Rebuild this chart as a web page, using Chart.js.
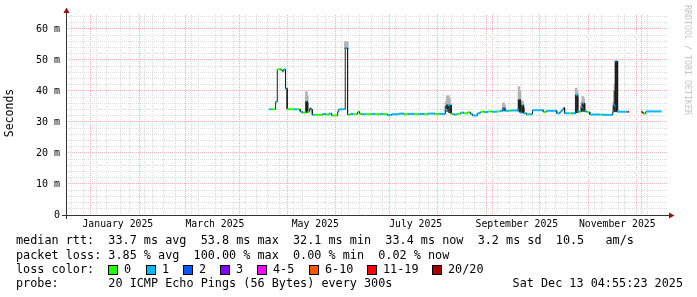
<!DOCTYPE html>
<html lang="en">
<head>
  <meta charset="UTF-8" />
  <title>Smokeping | Last 360 days</title>
  <script src="https://cdn.jsdelivr.net/npm/chart.js"></script>
  <style>
    html, body { margin: 0; padding: 0; background: #fff; }
    canvas { display: block; }
  </style>
</head>
<body>
  <canvas id="smokeChart" width="697" height="297"></canvas>

  <script>
    // x values are days counted from 1 Jan 2025
    const monthStarts = [0, 31, 59, 90, 120, 151, 181, 212, 243, 273, 304, 334];
    const weekStarts = [-9, -2, 5, 12, 19, 26, 33, 40, 47, 54, 61, 68, 75, 82, 89, 96, 103, 110, 117, 124,
      131, 138, 145, 152, 159, 166, 173, 180, 187, 194, 201, 208, 215, 222, 229, 236, 243, 250, 257, 264,
      271, 278, 285, 292, 299, 306, 313, 320, 327, 334, 341];
    const labelDays = [15.5, 74.5, 135.5, 196.5, 258, 319];
    const labelNames = ['January 2025', 'March 2025', 'May 2025', 'July 2025', 'September 2025', 'November 2025'];
    const yTicks = [0, 2, 4, 6, 8, 10, 12, 14, 16, 18, 20, 22, 24, 26, 28, 30, 32, 34, 36, 38, 40,
      42, 44, 46, 48, 50, 52, 54, 56, 58, 60, 62, 64];

    // median rtt (ms), one value per step, step lasts until the next start
    const stepStart = [
      107.2, 108.5, 111.4, 112.4, 114.8, 115.6, 116.4, 117.4, 118.4, 122.6,
      124.4, 126.4, 127.7, 130.1, 130.7, 132.1, 132.9, 133.7, 135.2, 140.0,
      141.8, 143.9, 145.4, 149.1, 149.8, 153.7, 155.1, 156.7, 158.5, 161.2,
      162.4, 163.9, 166.3, 169.9, 171.7, 174.7, 176.5, 179.5, 181.9, 186.7,
      189.1, 191.5, 195.7, 198.1, 201.7, 204.0, 208.2, 210.6, 214.5, 216.0,
      218.1, 219.6, 221.4, 223.8, 225.6, 228.0, 229.8, 231.0, 234.0, 235.8,
      238.2, 240.6, 243.0, 246.0, 247.8, 249.6, 250.8, 253.2, 254.4, 258.6,
      259.3, 260.0, 261.2, 262.0, 263.9, 265.1, 267.5, 274.1, 275.9, 282.2,
      284.3, 285.5, 286.4, 287.0, 289.7, 290.9, 293.9, 294.9, 296.0, 297.2,
      298.1, 299.2, 300.5, 302.3, 308.9, 310.1, 316.3, 317.1, 318.0, 318.9,
      325.2, 326.2, 333.4, 334.3, 334.9, 336.4
    ];
    const lastEnd = 346.0;
    const medianMs = [
      34.1, 34.1, 36.5, 47.0, 46.7, 46.3, 47.0, 40.8, 34.1, 34.1,
      34.1, 33.3, 33.0, 36.6, 33.2, 34.4, 34.0, 32.3, 32.3, 32.6,
      32.4, 32.7, 32.1, 33.4, 34.1, 53.8, 32.3, 32.6, 32.5, 33.3,
      32.6, 32.5, 32.5, 32.6, 32.5, 32.6, 32.5, 32.2, 32.5, 32.7,
      32.5, 32.6, 32.5, 32.6, 32.5, 32.7, 32.6, 32.6, 33.9, 35.5,
      32.6, 32.4, 32.6, 33.0, 32.8, 33.1, 32.6, 32.1, 32.8, 33.3,
      33.2, 33.4, 33.3, 33.4, 33.6, 34.0, 33.6, 33.6, 33.7, 34.0,
      37.2, 33.0, 35.4, 32.8, 32.4, 32.5, 33.8, 33.2, 33.6, 32.8,
      33.4, 34.0, 34.6, 32.8, 32.8, 32.8, 38.7, 33.5, 33.3, 34.8,
      36.0, 33.4, 33.2, 32.4, 32.4, 32.3, 33.4, 35.3, 49.5, 33.3,
      33.3, null, 33.3, 33.0, 32.7, 33.4
    ];
    // index into lossColors
    const lossIdx = [
      1, 0, 1, 0, 0, 0, 1, 1, 0, 1,
      0, 1, 0, 1, 0, 1, 1, 1, 0, 1,
      0, 1, 0, 1, 1, 1, 0, 1, 0, 0,
      0, 1, 0, 1, 0, 1, 0, 1, 1, 1,
      0, 1, 0, 1, 0, 1, 0, 1, 1, 1,
      0, 1, 0, 1, 0, 0, 1, 1, 1, 0,
      1, 0, 1, 0, 1, 1, 1, 0, 1, 1,
      1, 1, 1, 1, 0, 1, 1, 0, 1, 1,
      1, 1, 1, 1, 0, 1, 1, 1, 0, 1,
      1, 1, 0, 1, 0, 1, 1, 1, 1, 1,
      6, 0, 5, 6, 0, 1
    ];

    // smoke (ping spread) around the spikes
    const smokeDay = [130.1, 130.6, 153.8, 154.4, 154.9, 215.0, 215.7, 216.4, 217.1, 249.9, 250.5, 259.3,
      259.9, 261.4, 262.0, 294.1, 294.7, 297.5, 298.1, 298.7, 317.0, 317.6, 318.2, 318.8];
    const smokeLo = [33.0, 33.0, 53.8, 53.8, 53.8, 33.5, 33.5, 33.5, 33.0, 33.6, 33.6, 33.5,
      33.5, 33.0, 33.0, 33.0, 33.0, 33.5, 33.5, 33.5, 33.3, 33.3, 33.3, 33.3];
    const smokeMid = [36.6, 36.0, 53.8, 53.8, 53.8, 35.0, 35.5, 35.5, 35.0, 34.5, 34.5, 37.2,
      36.5, 35.4, 34.5, 38.7, 38.0, 35.0, 36.0, 35.5, 35.3, 40.0, 49.5, 49.5];
    const smokeHi = [39.8, 38.5, 55.9, 55.5, 55.9, 36.5, 38.4, 38.5, 37.5, 36.2, 35.5, 41.4,
      40.0, 36.8, 35.5, 40.9, 39.5, 36.5, 38.2, 37.5, 36.5, 42.0, 49.9, 49.7];

    const lossColors = ['#26ff00', '#00b8ff', '#0059ff', '#7e00ff', '#ff00ff', '#ff5500', '#ff0000', '#a00000'];
    const lossLabels = ['0', '1', '2', '3', '4-5', '6-10', '11-19', '20/20'];

    const FONT = '"DejaVu Sans Mono", monospace';
    const GRID_GRAY = '#dcdcdc';
    const GRID_RED = '#f2b0b0';

    // build the stepped median line
    const pts = [];
    stepStart.forEach((x0, i) => {
      const x1 = i + 1 < stepStart.length ? stepStart[i + 1] : lastEnd;
      pts.push({ x: x0, y: medianMs[i], c: lossIdx[i] });
      pts.push({ x: x1, y: medianMs[i], c: lossIdx[i] });
    });

    const isRiser = s => s.p0.parsed.y !== s.p1.parsed.y;

    function xGridColor(c) {
      if (!c.tick) return 'rgba(0,0,0,0)';
      const v = c.tick.value;
      if (labelDays.includes(v)) return 'rgba(0,0,0,0)';
      return monthStarts.includes(v) ? GRID_RED : GRID_GRAY;
    }

    function yGridColor(c) {
      if (!c.tick) return 'rgba(0,0,0,0)';
      return c.tick.value % 10 === 0 ? GRID_RED : GRID_GRAY;
    }

    const decorations = {
      id: 'decorations',
      afterDraw(chart) {
        const ctx = chart.ctx;
        ctx.save();

        // axes with arrows
        ctx.strokeStyle = '#333';
        ctx.lineWidth = 1;
        ctx.beginPath();
        ctx.moveTo(66.5, 219);
        ctx.lineTo(66.5, 12);
        ctx.moveTo(62, 215.5);
        ctx.lineTo(669, 215.5);
        ctx.stroke();
        ctx.fillStyle = '#9a1010';
        ctx.beginPath();
        ctx.moveTo(63.5, 13);
        ctx.lineTo(69.5, 13);
        ctx.lineTo(66.5, 7.5);
        ctx.closePath();
        ctx.fill();
        ctx.beginPath();
        ctx.moveTo(669, 212.5);
        ctx.lineTo(669, 218.5);
        ctx.lineTo(674.5, 215.5);
        ctx.closePath();
        ctx.fill();

        // axis title
        ctx.fillStyle = '#000';
        ctx.font = '11.5px ' + FONT;
        ctx.textAlign = 'center';
        ctx.textBaseline = 'middle';
        ctx.save();
        ctx.translate(10, 113);
        ctx.rotate(-Math.PI / 2);
        ctx.fillText('Seconds', 0, 0);
        ctx.restore();

        // watermark
        ctx.save();
        ctx.translate(687, 5);
        ctx.rotate(Math.PI / 2);
        ctx.textAlign = 'left';
        ctx.fillStyle = '#c4c4c4';
        ctx.font = '8.3px ' + FONT;
        ctx.fillText('RRDTOOL / TOBI OETIKER', 0, 0);
        ctx.restore();

        // legend
        ctx.font = '11.8px ' + FONT;
        ctx.fillStyle = '#000';
        ctx.textAlign = 'left';
        ctx.fillText('median rtt:  33.7 ms avg  53.8 ms max  32.1 ms min  33.4 ms now  3.2 ms sd  10.5   am/s', 16, 241);
        ctx.fillText('packet loss: 3.85 % avg  100.00 % max  0.00 % min  0.02 % now', 16, 256);
        ctx.fillText('loss color:', 16, 270);
        ctx.fillText('probe:       20 ICMP Echo Pings (56 Bytes) every 300s', 16, 284);
        ctx.textAlign = 'right';
        ctx.fillText('Sat Dec 13 04:55:23 2025', 683, 284);

        const boxX = [108, 146, 183, 220, 257, 309, 367, 432];
        ctx.textAlign = 'left';
        lossLabels.forEach((lab, i) => {
          ctx.fillStyle = lossColors[i];
          ctx.fillRect(boxX[i] + 0.5, 265.5, 9, 9);
          ctx.strokeStyle = '#000';
          ctx.strokeRect(boxX[i] + 0.5, 265.5, 9, 9);
          ctx.fillStyle = '#000';
          ctx.fillText(lab, boxX[i] + 16, 270);
        });

        ctx.restore();
      }
    };

    const chartCtx = document.getElementById('smokeChart').getContext('2d');
    window.smokeChartObj = new Chart(chartCtx, {
      type: 'line',
      data: {
        datasets: [
          {
            label: 'median rtt',
            data: pts,
            order: 0,
            borderWidth: 2,
            pointRadius: 0,
            tension: 0,
            spanGaps: false,
            borderColor: lossColors[1],
            segment: {
              borderColor: s => isRiser(s) ? '#1c1c1c' : lossColors[pts[s.p0DataIndex].c],
              borderWidth: s => isRiser(s) ? 1 : 2
            }
          },
          {
            type: 'bar',
            label: 'smoke dense',
            data: smokeDay.map((d, i) => ({ x: d, y: [smokeLo[i], smokeMid[i]] })),
            order: 1,
            grouped: false,
            barThickness: 2,
            backgroundColor: '#3a3a3a',
            borderWidth: 0
          },
          {
            type: 'bar',
            label: 'smoke light',
            data: smokeDay.map((d, i) => ({ x: d, y: [smokeMid[i], smokeHi[i]] })),
            order: 2,
            grouped: false,
            barThickness: 2,
            backgroundColor: '#b4b4b4',
            borderWidth: 0
          }
        ]
      },
      options: {
        responsive: false,
        animation: false,
        devicePixelRatio: 1,
        layout: { padding: { left: 0, top: 15, right: 29, bottom: 0 } },
        plugins: { legend: { display: false }, tooltip: { enabled: false } },
        scales: {
          x: {
            type: 'linear',
            min: -13.36,
            max: 347.2,
            afterFit: s => { s.height = 82; },
            afterBuildTicks: s => {
              const vals = [...weekStarts, ...monthStarts, ...labelDays].sort((a, b) => a - b);
              s.ticks = vals.map(v => ({ value: v }));
            },
            ticks: {
              autoSkip: false,
              maxRotation: 0,
              minRotation: 0,
              padding: 4,
              color: '#000',
              font: { family: FONT, size: 9.8 },
              callback: v => {
                const k = labelDays.indexOf(v);
                return k >= 0 ? labelNames[k] : '';
              }
            },
            grid: { color: xGridColor, lineWidth: 1, drawTicks: false },
            border: { display: false, dash: [1, 1] }
          },
          y: {
            type: 'linear',
            min: 0,
            max: 64.5,
            afterFit: s => { s.width = 66; },
            afterBuildTicks: s => { s.ticks = yTicks.map(v => ({ value: v })); },
            ticks: {
              autoSkip: false,
              padding: 6,
              color: '#000',
              font: { family: FONT, size: 10 },
              callback: v => v === 0 ? '0' : (v % 10 === 0 ? v + ' m' : '')
            },
            grid: { color: yGridColor, lineWidth: 1, drawTicks: false },
            border: { display: false, dash: [1, 1] }
          }
        }
      },
      plugins: [decorations]
    });
  </script>
</body>
</html>
